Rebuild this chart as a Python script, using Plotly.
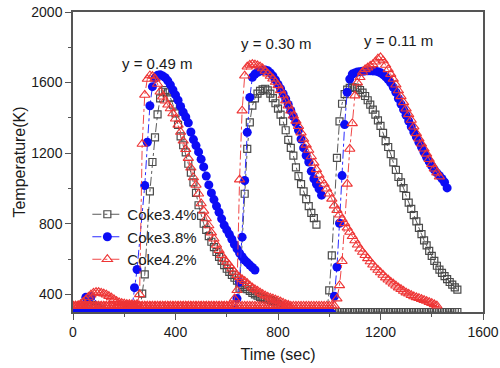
import plotly.graph_objects as go

# Sampling grid of the simulation (seconds)
TIME_S = list(range(0, 1510, 10))

SERIES_NAMES = ["Coke3.4%", "Coke3.8%", "Coke4.2%"]
LOCATION_LABELS = ["y = 0.49 m", "y = 0.30 m", "y = 0.11 m"]

# ---------------- Coke 3.4 % (temperatures in K, one value every 10 s) ----------------
T_34_049 = [
    297, 297, 297, 300, 305, 315, 330, 340, 338, 330,
    320, 310, 303, 300, 298, 297, 297, 297, 297, 297,
    297, 297, 297, 297, 297, 297, 297, 404, 513, None,
    983, 1150, 1290, 1420, 1510, 1548, 1558, 1545, 1515, 1475,
    1425, 1360, 1295, 1245, 1205, 1140, 1090, 1035, 975, 905,
    845, 800, 765, 730, 698, 668, 640, 612, 590, 566,
    545, 527, 510, 494, 478, 463, 452, 441, 430, 420,
    408, 400, 392, 385, 380, 375, 371, 367, 362, 355,
    345, 330, 315, 305, 300, 300, 300, 300, 300, 300,
    300, 300, 300, 300, 300, 300, 300, 300, 300, 300,
    300, 300, 300, 300, 300, 300, 300, 300, 300, 300,
    300, 300, 300, 300, 300, 300, 300, 300, 300, 300,
    300, 300, 300, 300, 300, 300, 300, 300, 300, 300,
    300, 300, 300, 300, 300, 300, 300, 300, 300, 300,
    300, 300, 300, 300, 300, 300, 300, 300, 300, 300,
    300,
]
T_34_030 = [
    297, 297, 297, 297, 297, 297, 297, 297, 297, 297,
    297, 297, 297, 297, 297, 297, 297, 297, 297, 297,
    297, 297, 297, 297, 297, 297, 297, 297, 297, 297,
    297, 297, 297, 297, 297, 297, 297, 297, 297, 297,
    297, 297, 297, 297, 297, 297, 297, 297, 297, 297,
    297, 297, 297, 297, 297, 297, 297, 297, 297, 297,
    297, 297, 297, 297, 297, 432, None, 970, 1224, 1375,
    1469, 1510, 1537, 1553, 1562, 1565, 1556, 1538, 1512, 1483,
    1452, 1418, 1380, 1330, 1275, 1230, 1186, 1120, 1070, 1025,
    983, 940, 900, 862, 832, 795,
]
T_34_011 = [
    297, 297, 297, 297, 297, 297, 297, 297, 297, 297,
    297, 297, 297, 297, 297, 297, 297, 297, 297, 297,
    297, 297, 297, 297, 297, 297, 297, 297, 297, 297,
    297, 297, 297, 297, 297, 297, 297, 297, 297, 297,
    297, 297, 297, 297, 297, 297, 297, 297, 297, 297,
    297, 297, 297, 297, 297, 297, 297, 297, 297, 297,
    297, 297, 297, 297, 297, 297, 297, 297, 297, 297,
    297, 297, 297, 297, 297, 297, 297, 297, 297, 297,
    297, 297, 297, 297, 297, 297, 297, 297, 297, 297,
    297, 297, 297, 297, 297, 297, 297, 297, 297, 297,
    423, 621, None, 1173, 1380, 1480, 1535, 1560, 1570, 1573,
    1571, 1567, 1558, 1543, 1524, 1500, 1475, 1447, 1418, 1386,
    1355, 1315, 1268, 1235, 1195, 1148, 1105, 1065, 1034, 1002,
    958, 920, 884, 849, 813, 777, 741, 706, 677, 646,
    618, 590, 562, 540, 522, 503, 486, 470, 455, 440,
    427,
]

# ---------------- Coke 3.8 % ----------------
T_38_049 = [
    292, None, None, None, None, 383, None, 388, None, None,
    None, None, None, None, 298, 292, 292, 292, 292, 292,
    292, 292, 292, 320, 438, 541, None, None, 1017, 1262,
    1469, 1577, 1625, 1641, 1645, 1638, 1628, 1610, 1587, 1558,
    1530, 1500, 1465, 1432, 1405, 1372, 1320, 1277, 1243, 1207,
    1166, 1122, 1070, 1020, 975, 937, 900, 865, 828, 792,
    765, 740, 712, 683, 658, 634, 613, 594, 580, 566,
    552, 538,
]
T_38_030 = [
    292, 292, 292, 292, 292, 292, 292, 292, 292, 292,
    292, 292, 292, 292, 292, 292, 292, 292, 292, 292,
    292, 292, 292, 292, 292, 292, 292, 292, 292, 292,
    292, 292, 292, 292, 292, 292, 292, 292, 292, 292,
    292, 292, 292, 292, 292, 292, 292, 292, 292, 292,
    292, 292, 292, 292, 292, 292, 292, 292, 292, 292,
    292, 292, 292, 310, 376, 470, 724, 1045, 1318, 1516,
    1630, 1648, 1658, 1665, 1670, 1672, 1667, 1655, 1638, 1615,
    1590, 1565, 1537, 1508, 1476, 1442, 1408, 1372, 1330, 1280,
    1230, 1187, 1150, 1098, 1055, 1025, 998, 962,
]
T_38_011 = [
    292, 292, 292, 292, 292, 292, 292, 292, 292, 292,
    292, 292, 292, 292, 292, 292, 292, 292, 292, 292,
    292, 292, 292, 292, 292, 292, 292, 292, 292, 292,
    292, 292, 292, 292, 292, 292, 292, 292, 292, 292,
    292, 292, 292, 292, 292, 292, 292, 292, 292, 292,
    292, 292, 292, 292, 292, 292, 292, 292, 292, 292,
    292, 292, 292, 292, 292, 292, 292, 292, 292, 292,
    292, 292, 292, 292, 292, 292, 292, 292, 292, 292,
    292, 292, 292, 292, 292, 292, 292, 292, 292, 292,
    292, 292, 292, 292, 292, 292, 292, 292, 292, 292,
    292, 292, 389, 555, 803, 1073, 1362, 1545, 1620, 1648,
    1655, 1660, 1662, 1664, 1666, 1667, 1667, 1666, 1665, 1662,
    1656, 1646, 1633, 1617, 1598, 1573, 1545, 1510, 1478, 1447,
    1415, 1382, 1350, 1320, 1292, 1262, 1235, 1205, 1177, 1152,
    1128, 1106, 1088, 1072, 1055, 1035, 1003,
]

# ---------------- Coke 4.2 % ----------------
T_42_049 = [
    335, 335, 338, 345, 357, 370, 385, 398, 408, 413,
    413, 408, 404, 398, 390, 382, 372, 362, 355, 350,
    347, 345, 344, 343, 342, 345, 400, 1252, 1530, 1620,
    1640, 1637, 1622, 1592, 1548, 1520, 1497, 1474, 1453, 1425,
    1395, 1360, 1320, 1270, 1222, 1172, 1117, 1062, 1020, 970,
    915, 873, 830, 790, 750, 715, 680, 650, 622, 600,
    583, 565, 545, 527, 508, 496, 485, 475, 463, 449,
    438, 428, 420, 410, 401, 393, 386, 380, 376, 370,
    365, 358, 351, 345, 340,
]
T_42_030 = [
    335, 335, 335, 335, 335, 335, 335, 335, 335, 335,
    335, 335, 335, 335, 335, 335, 335, 335, 335, 335,
    335, 335, 335, 335, 335, 335, 335, 335, 335, 335,
    335, 335, 335, 335, 335, 335, 335, 335, 335, 335,
    335, 335, 335, 335, 335, 335, 335, 335, 335, 335,
    335, 335, 335, 335, 335, 335, 335, 335, 335, 335,
    335, 335, 335, 376, 423, 1050, 1441, 1639, 1690, 1700,
    1705, 1702, 1697, 1690, 1680, 1666, 1651, 1637, 1622, 1603,
    1584, 1556, 1527, 1498, 1469, 1440, 1412, 1383, 1353, 1316,
    1280, 1247, 1218, 1181, 1145, 1108, 1076, 1045, 1025, 998,
    970, 941, 903, 877, 851, 826, 802, 777, 753, 729,
    705, 681, 658, 640, 622, 604, 586, 568, 552, 538,
    524, 510, 495, 483, 471, 460, 449, 438, 429, 419,
    410, 403, 395, 388, 383, 378, 373, 367, 362, 356,
    350, 343, 336,
]
T_42_011 = [
    335, 335, 335, 335, 335, 335, 335, 335, 335, 335,
    335, 335, 335, 335, 335, 335, 335, 335, 335, 335,
    335, 335, 335, 335, 335, 335, 335, 335, 335, 335,
    335, 335, 335, 335, 335, 335, 335, 335, 335, 335,
    335, 335, 335, 335, 335, 335, 335, 335, 335, 335,
    335, 335, 335, 335, 335, 335, 335, 335, 335, 335,
    335, 335, 335, 335, 335, 335, 335, 335, 335, 335,
    335, 335, 335, 335, 335, 335, 335, 335, 335, 335,
    335, 335, 335, 335, 335, 335, 335, 335, 335, 335,
    335, 335, 335, 335, 335, 335, 335, 335, 335, 335,
    335, 335, 335, 376, 451, 588, None, 1026, 1224, 1369,
    1526, 1600, 1630, 1660, 1675, 1685, 1695, 1703, 1718, 1735,
    1743, 1725, 1700, 1675, 1648, 1620, 1588, 1555, 1522, 1488,
    1452, 1420, 1388, 1350, 1312, 1282, 1253, 1225, 1196, 1166,
    1138, 1112, 1090, 1067,
]

# Annotation anchor points (data coordinates: time, temperature)
LABEL_TIME = [328, 792, 1272]
LABEL_TEMP = [1707, 1820, 1837]

STYLES = {
    "Coke3.4%": dict(symbol="square-open", size=7, color="#4a4a4a", lw=1.2, line="#5a5a5a"),
    "Coke3.8%": dict(symbol="circle", size=9, color="#0c0cf5", lw=0, line="#2a2aff"),
    "Coke4.2%": dict(symbol="triangle-up-open", size=9, color="#ee3535", lw=1.1, line="#f04848"),
}
DATA = {
    "Coke3.4%": [T_34_049, T_34_030, T_34_011],
    "Coke3.8%": [T_38_049, T_38_030, T_38_011],
    "Coke4.2%": [T_42_049, T_42_030, T_42_011],
}

fig = go.Figure()
for name in SERIES_NAMES:
    st = STYLES[name]
    for k, temps in enumerate(DATA[name]):
        fig.add_trace(go.Scatter(
            x=TIME_S[:len(temps)], y=temps,
            mode="lines+markers", connectgaps=True,
            name=name, legendgroup=name, showlegend=(k == 0),
            line=dict(color=st["line"], width=1, dash="dashdot"),
            marker=dict(symbol=st["symbol"], size=st["size"], color=st["color"],
                        line=dict(width=st["lw"], color=st["color"])),
        ))

for label, tx, ty in zip(LOCATION_LABELS, LABEL_TIME, LABEL_TEMP):
    fig.add_annotation(x=tx, y=ty, text=label, showarrow=False,
                       font=dict(size=15, color="#1a1a1a"))

axis_common = dict(
    showline=True, linecolor="#555555", linewidth=1.5, mirror=True,
    ticks="outside", ticklen=6, tickwidth=1.2, tickcolor="#555555",
    showgrid=False, zeroline=False,
    tickfont=dict(size=14, color="#1a1a1a"),
    minor=dict(ticks="outside", ticklen=3, tickwidth=1.2, tickcolor="#555555"),
)

fig.update_xaxes(range=[0, 1600], tick0=0, dtick=400,
                 title=dict(text="Time (sec)", font=dict(size=16, color="#1a1a1a"), standoff=10),
                 **axis_common)
fig.update_xaxes(minor_dtick=200)
fig.update_yaxes(range=[300, 2000], tick0=400, dtick=400,
                 title=dict(text="Temperature(K)", font=dict(size=16, color="#1a1a1a"), standoff=2),
                 **axis_common)
fig.update_yaxes(minor_dtick=200, minor_tick0=0)

fig.update_layout(
    width=500, height=368,
    margin=dict(l=73, r=17, t=12, b=56, autoexpand=False),
    plot_bgcolor="white", paper_bgcolor="white",
    font=dict(family="Arial, 'Liberation Sans', sans-serif", color="#1a1a1a"),
    showlegend=True,
    legend=dict(x=0.035, y=0.38, xanchor="left", yanchor="top",
                bgcolor="rgba(0,0,0,0)", font=dict(size=15), tracegroupgap=0),
)

fig.write_html("out.html", config={"displayModeBar": False},
               post_script="document.body.style.margin='0';document.body.style.padding='0';")
